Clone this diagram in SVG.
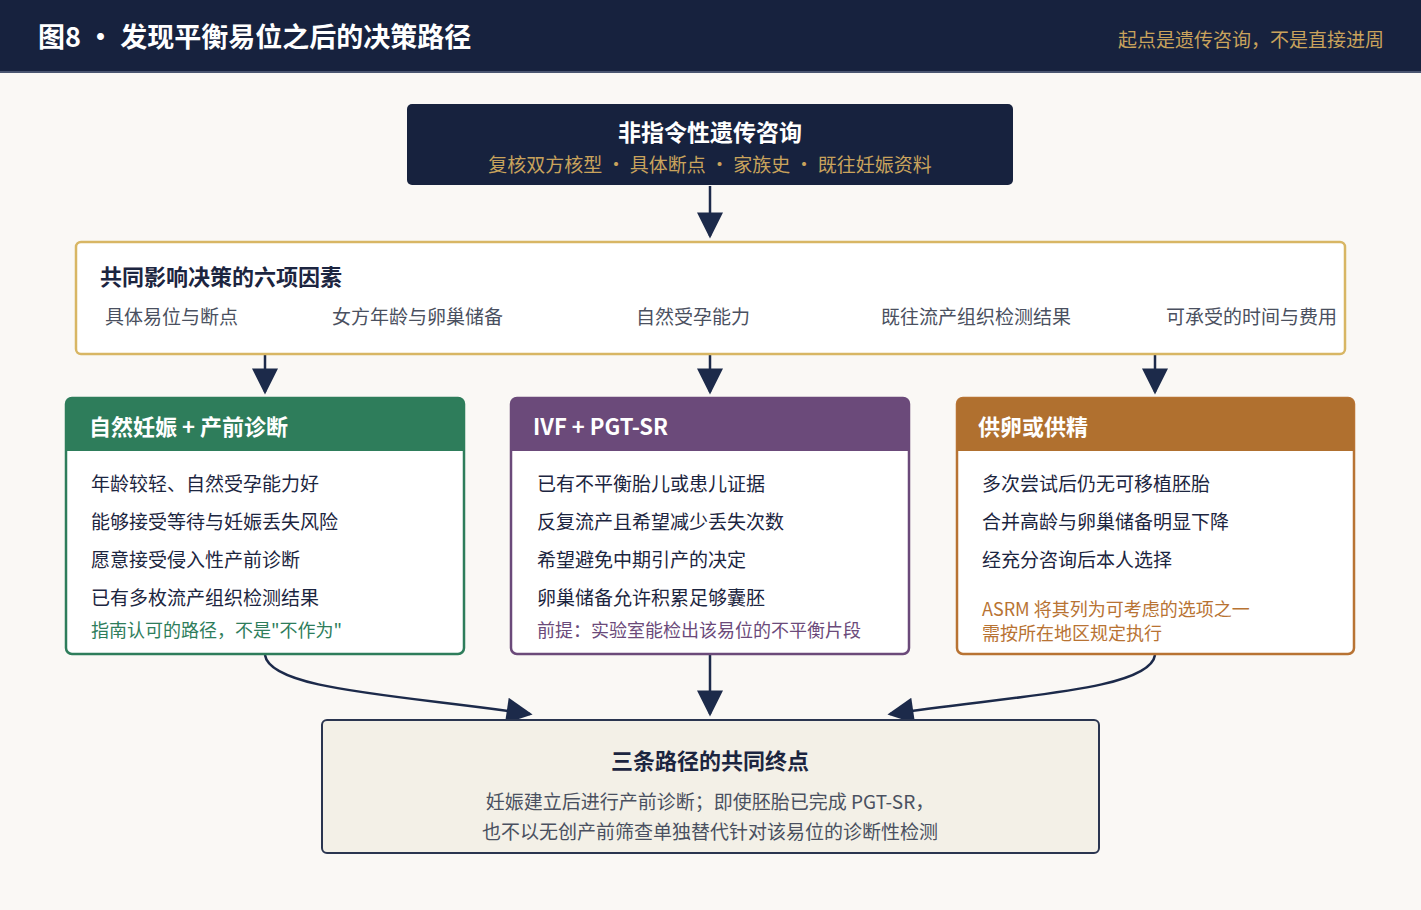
<svg xmlns="http://www.w3.org/2000/svg" width="1421" height="910" viewBox="0 0 1421 910">
<style>
text{font-family:"Noto Sans CJK SC","Noto Sans",sans-serif}
.t{fill:#1c2540;font-size:19px}
.c{stroke:#1c2a4a;stroke-width:2.5;fill:none}
.hd{fill:#fff;font-size:22px;font-weight:bold}
</style>
<defs>
<marker id="ah" viewBox="0 0 10 10" refX="9" refY="5" markerWidth="10" markerHeight="10" markerUnits="userSpaceOnUse" orient="auto"><path d="M0,0 L10,5 L0,10 z" fill="#1c2a4a"/></marker>
<marker id="ab" viewBox="0 0 10 10" refX="9" refY="5" markerWidth="30" markerHeight="26" markerUnits="userSpaceOnUse" orient="auto"><path d="M0,0 L10,5 L0,10 z" fill="#1c2a4a"/></marker>
</defs>
<rect width="1421" height="910" fill="#faf8f5"/>
<g id="header">
<rect width="1421" height="71" fill="#17223e"/>
<rect y="71" width="1421" height="2" fill="#4a5570"/>
<text x="38" y="47" fill="#fff" font-size="27" font-weight="bold">图8 · 发现平衡易位之后的决策路径</text>
<text x="1384" y="47" fill="#c9a35c" font-size="19" text-anchor="end">起点是遗传咨询，不是直接进周</text>
</g>
<g id="connectors">
<line class="c" x1="710" y1="186" x2="710" y2="236" marker-end="url(#ab)"/>
<line class="c" x1="265" y1="355" x2="265" y2="392" marker-end="url(#ab)"/>
<line class="c" x1="710" y1="355" x2="710" y2="392" marker-end="url(#ab)"/>
<line class="c" x1="1155" y1="355" x2="1155" y2="392" marker-end="url(#ab)"/>
<path class="c" d="M265,655 C270,690 400,695 530,714" marker-end="url(#ab)"/>
<line class="c" x1="710" y1="655" x2="710" y2="714" marker-end="url(#ab)"/>
<path class="c" d="M1155,655 C1150,690 1020,695 890,714" marker-end="url(#ab)"/>
</g>
<g id="counsel">
<rect x="407" y="104" width="606" height="81" rx="5" fill="#17223e"/>
<text x="710" y="141" fill="#fff" font-size="23" font-weight="bold" text-anchor="middle">非指令性遗传咨询</text>
<text x="710" y="172" fill="#c9a35c" font-size="19" text-anchor="middle">复核双方核型 · 具体断点 · 家族史 · 既往妊娠资料</text>
</g>
<g id="factors">
<rect x="76" y="242" width="1269" height="112" rx="5" fill="#fff" stroke="#d8b664" stroke-width="2.5"/>
<text x="100" y="285" fill="#1c2540" font-size="22" font-weight="bold">共同影响决策的六项因素</text>
<text class="t" fill="#4a5060" x="105" y="324" style="fill:#4a5060">具体易位与断点</text>
<text class="t" x="332" y="324" style="fill:#4a5060">女方年龄与卵巢储备</text>
<text class="t" x="636" y="324" style="fill:#4a5060">自然受孕能力</text>
<text class="t" x="881" y="324" style="fill:#4a5060">既往流产组织检测结果</text>
<text class="t" x="1166" y="324" style="fill:#4a5060">可承受的时间与费用</text>
</g>
<g id="natural">
<rect x="66" y="398" width="398" height="256" rx="6" fill="#fff" stroke="#2e7d5b" stroke-width="2.5"/>
<path d="M66,404 a6,6 0 0 1 6,-6 h386 a6,6 0 0 1 6,6 v47 h-398z" fill="#2e7d5b"/>
<text class="hd" x="89" y="435">自然妊娠 + 产前诊断</text>
<text class="t" x="91" y="491">年龄较轻、自然受孕能力好</text>
<text class="t" x="91" y="529">能够接受等待与妊娠丢失风险</text>
<text class="t" x="91" y="567">愿意接受侵入性产前诊断</text>
<text class="t" x="91" y="605">已有多枚流产组织检测结果</text>
<text x="91" y="637" fill="#2e7d5b" font-size="18">指南认可的路径，不是"不作为"</text>
</g>
<g id="ivf">
<rect x="511" y="398" width="398" height="256" rx="6" fill="#fff" stroke="#6b4a7a" stroke-width="2.5"/>
<path d="M511,404 a6,6 0 0 1 6,-6 h386 a6,6 0 0 1 6,6 v47 h-398z" fill="#6b4a7a"/>
<text class="hd" x="533" y="435">IVF + PGT-SR</text>
<text class="t" x="537" y="491">已有不平衡胎儿或患儿证据</text>
<text class="t" x="537" y="529">反复流产且希望减少丢失次数</text>
<text class="t" x="537" y="567">希望避免中期引产的决定</text>
<text class="t" x="537" y="605">卵巢储备允许积累足够囊胚</text>
<text x="537" y="637" fill="#6b4a7a" font-size="18">前提：实验室能检出该易位的不平衡片段</text>
</g>
<g id="donor">
<rect x="957" y="398" width="397" height="256" rx="6" fill="#fff" stroke="#b87333" stroke-width="2.5"/>
<path d="M957,404 a6,6 0 0 1 6,-6 h385 a6,6 0 0 1 6,6 v47 h-397z" fill="#b0702f"/>
<text class="hd" x="978" y="435">供卵或供精</text>
<text class="t" x="982" y="491">多次尝试后仍无可移植胚胎</text>
<text class="t" x="982" y="529">合并高龄与卵巢储备明显下降</text>
<text class="t" x="982" y="567">经充分咨询后本人选择</text>
<text x="982" y="616" fill="#b87333" font-size="18">ASRM 将其列为可考虑的选项之一</text>
<text x="982" y="640" fill="#b87333" font-size="18">需按所在地区规定执行</text>
</g>
<g id="endpoint">
<rect x="322" y="720" width="777" height="133" rx="5" fill="#f3f0e7" stroke="#2a3550" stroke-width="2"/>
<text x="710" y="769" fill="#1c2540" font-size="22" font-weight="bold" text-anchor="middle">三条路径的共同终点</text>
<text x="710" y="809" fill="#4a5060" font-size="19" text-anchor="middle">妊娠建立后进行产前诊断；即使胚胎已完成 PGT-SR，</text>
<text x="710" y="839" fill="#4a5060" font-size="19" text-anchor="middle">也不以无创产前筛查单独替代针对该易位的诊断性检测</text>
</g>
</svg>
